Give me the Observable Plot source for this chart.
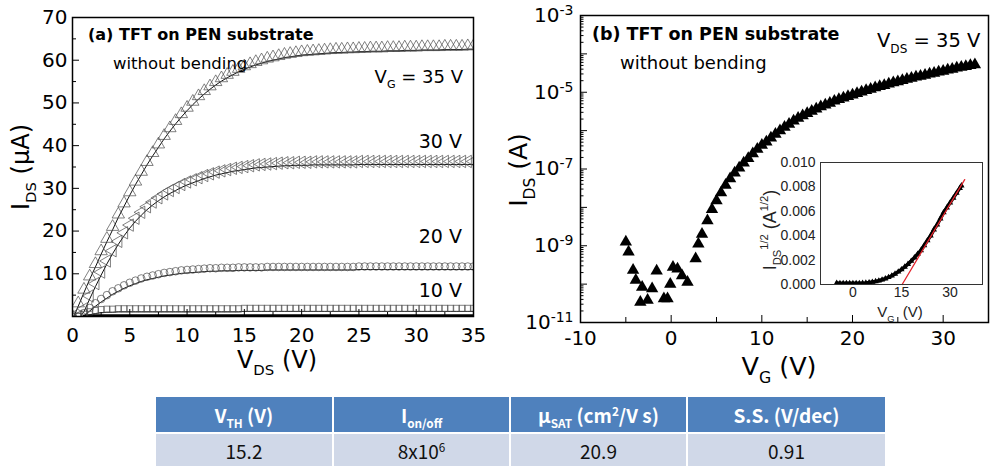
<!DOCTYPE html>
<html><head><meta charset="utf-8">
<script src="https://cdn.jsdelivr.net/npm/d3@7"></script>
<script src="https://cdn.jsdelivr.net/npm/@observablehq/plot@0.6"></script>
<style>
html,body{margin:0;padding:0;background:#fff;}
#wrap{position:relative;width:993px;height:472px;overflow:hidden;background:#fff;}
#wrap svg{position:absolute;overflow:visible;}
#tbl{position:absolute;left:156px;top:397px;width:729px;border-collapse:separate;border-spacing:0;table-layout:fixed;font-family:"Noto Sans CJK KR","Noto Sans",sans-serif;}
#tbl td{padding:0;text-align:center;vertical-align:middle;line-height:1;}
#tbl td.h{background:#4f81bd;color:#fff;font-weight:bold;font-size:19px;height:35px;border-bottom:2px solid #fff;}
#tbl td.v{background:#d0d8e8;color:#111;font-size:19px;height:32px;}
#tbl td.sep{border-right:2px solid #fff;}
#tbl sub,#tbl sup{font-size:0.62em;line-height:0;}
</style></head><body><div id="wrap"></div>
<script>
const FONT = "DejaVu Sans, Verdana, sans-serif";
const IFONT = "Liberation Sans, Arial, sans-serif";

// ---------- (a) output characteristics ----------
const vds = [0,0.5,1,1.5,2,2.5,3,3.5,4,4.5,5,5.5,6,6.5,7,7.5,8,8.5,9,9.5,10,10.5,11,11.5,12,12.5,13,13.5,14,14.5,15,15.5,16,16.5,17,17.5,18,18.5,19,19.5,20,20.5,21,21.5,22,22.5,23,23.5,24,24.5,25,25.5,26,26.5,27,27.5,28,28.5,29,29.5,30,30.5,31,31.5,32,32.5,33,33.5,34,34.5,35];
const ids35 = [0,3.1,6.3,9.4,12.3,15.3,18.2,21.0,23.9,26.5,29.1,31.6,33.9,36.2,38.3,40.3,42.3,44.1,45.8,47.4,48.9,50.3,51.6,52.8,53.9,54.9,55.8,56.6,57.3,58.0,58.6,59.1,59.6,60.0,60.4,60.7,61.0,61.3,61.5,61.7,61.9,62.0,62.1,62.2,62.3,62.4,62.5,62.5,62.6,62.6,62.7,62.7,62.8,62.8,62.8,62.9,62.9,62.9,63.0,63.0,63.0,63.1,63.1,63.1,63.1,63.2,63.2,63.2,63.2,63.3,63.3];
const ids30 = [0,0,1.8,4.8,7.7,10.4,13.0,15.4,17.6,19.6,21.4,23.0,24.4,25.7,26.8,27.8,28.7,29.5,30.2,30.9,31.5,32.0,32.5,33.0,33.4,33.8,34.1,34.4,34.7,34.9,35.1,35.3,35.5,35.6,35.7,35.8,35.9,36.0,36.0,36.1,36.1,36.1,36.2,36.2,36.2,36.2,36.2,36.2,36.2,36.2,36.3,36.3,36.3,36.3,36.3,36.3,36.3,36.3,36.3,36.3,36.3,36.3,36.3,36.3,36.3,36.3,36.3,36.3,36.3,36.3,36.3];
const ids20 = [0,0,0.8,2.0,3.1,4.1,5.0,5.9,6.6,7.3,7.9,8.4,8.9,9.3,9.6,9.9,10.2,10.4,10.6,10.8,10.9,11.0,11.1,11.2,11.3,11.3,11.4,11.4,11.4,11.5,11.5,11.5,11.5,11.5,11.6,11.6,11.6,11.6,11.6,11.6,11.6,11.6,11.6,11.6,11.6,11.6,11.6,11.6,11.6,11.6,11.7,11.7,11.7,11.7,11.7,11.7,11.7,11.7,11.7,11.7,11.7,11.7,11.7,11.7,11.7,11.7,11.7,11.7,11.7,11.7,11.7];
const ids10 = [0,0,0.5,1.1,1.4,1.6,1.7,1.7,1.8,1.8,1.8,1.8,1.8,1.8,1.8,1.8,1.8,1.8,1.8,1.8,1.8,1.8,1.8,1.8,1.8,1.8,1.8,1.8,1.8,1.8,1.9,1.9,1.9,1.9,1.9,1.9,1.9,1.9,1.9,1.9,1.9,1.9,1.9,1.9,1.9,1.9,1.9,1.9,1.9,1.9,1.9,1.9,1.9,1.9,1.9,1.9,1.9,1.9,1.9,1.9,1.9,1.9,1.9,1.9,1.9,1.9,1.9,1.9,1.9,1.9,1.9];
const ids0 = [0,0,0.1,0.15,0.2,0.2,0.2,0.2,0.2,0.2,0.2,0.2,0.2,0.2,0.2,0.2,0.2,0.2,0.2,0.2,0.2,0.2,0.2,0.2,0.2,0.2,0.2,0.2,0.2,0.2,0.2,0.2,0.2,0.2,0.2,0.2,0.2,0.2,0.2,0.2,0.2,0.2,0.2,0.2,0.2,0.2,0.2,0.2,0.2,0.2,0.2,0.2,0.2,0.2,0.2,0.2,0.2,0.2,0.2,0.2,0.2,0.2,0.2,0.2,0.2,0.2,0.2,0.2,0.2,0.2,0.2];
const gateLabels = ["V_G = 35 V", "30 V", "20 V", "10 V"];
const xTicksA = [0,5,10,15,20,25,30,35];
const yTicksA = [10,20,30,40,50,60,70];

// ---------- (b) transfer characteristics ----------
const vgT = [-5.0,-4.7,-4.2,-3.9,-3.4,-3.2,-2.6,-2.1,-1.6,-0.8,-0.4,-0.1,0.2,0.7,1.2,1.8,2.7,3.0,3.4,4.0,4.5,5.0,5.5,6.0,6.5,7.0,7.5,8.0,8.5,9.0,9.5,10,10.5,11,11.5,12,12.5,13,13.5,14,14.5,15,15.5,16,16.5,17,17.5,18,18.5,19,19.5,20,20.5,21,21.5,22,22.5,23,23.5,24,24.5,25,25.5,26,26.5,27,27.5,28,28.5,29,29.5,30,30.5,31,31.5,32,32.5,33,33.5];
const idsT = [1.26e-9,6.9e-10,2.3e-10,1.26e-10,3.4e-11,8.3e-11,3.8e-11,7.6e-11,2.2e-10,4.2e-11,4.2e-11,1.0e-10,2.75e-10,2.5e-10,1.66e-10,1.12e-10,4.6e-10,1.12e-9,2.0e-9,4.5e-9,8.9e-9,1.5e-8,2.4e-8,3.8e-8,5.6e-8,7.9e-8,1.07e-7,1.45e-7,1.9e-7,2.5e-7,3.3e-7,4.2e-7,5.1e-7,6.5e-7,8.1e-7,1.0e-6,1.23e-6,1.48e-6,1.78e-6,2.1e-6,2.45e-6,2.8e-6,3.2e-6,3.7e-6,4.2e-6,4.7e-6,5.2e-6,5.9e-6,6.5e-6,7.1e-6,7.8e-6,8.5e-6,9.3e-6,1.02e-5,1.12e-5,1.2e-5,1.32e-5,1.41e-5,1.51e-5,1.66e-5,1.78e-5,1.9e-5,2.04e-5,2.19e-5,2.34e-5,2.5e-5,2.63e-5,2.8e-5,3.0e-5,3.16e-5,3.4e-5,3.55e-5,3.8e-5,4.0e-5,4.3e-5,4.5e-5,4.7e-5,5.0e-5,5.25e-5];
const xTicksB = [-10,0,10,20,30];
const xMinorB = [-5,5,15,25];
const yLabelTicksB = [1e-11,1e-9,1e-7,1e-5,1e-3];

// ---------- inset: sqrt(IDS) vs VG ----------
const vgS = [-5,-4,-3,-2,-1,0,1,2,3,4,5,6,7,8,9,10,11,12,13,14,15,16,17,18,19,20,21,22,23,24,25,26,27,28,29,30,31,32,33,33.5];
const sqrtS = [0.00012,0.0001,0.0001,0.0001,0.0001,0.0001,0.0001,0.0001,0.00011,0.00013,0.00016,0.0002,0.00025,0.00031,0.00039,0.00048,0.00059,0.00072,0.00087,0.00104,0.00123,0.00144,0.00167,0.00192,0.0022,0.0025,0.0028,0.0032,0.0036,0.0040,0.0045,0.0049,0.0054,0.0059,0.0063,0.0067,0.0071,0.0075,0.0079,0.0081];
const fitVG = [15.2, 34.5];
const fitS = [0, 0.0086];
const xTicksS = [0,15,30];
const yTicksS = [0,0.002,0.004,0.006,0.008,0.010];

// ---------- table ----------
const tableHeaders = ['V<sub>TH</sub> (V)', 'I<sub>on/off</sub>', 'μ<sub>SAT</sub> (cm<sup>2</sup>/V s)', 'S.S. (V/dec)'];
const tableValues = ['15.2', '8x10<sup>6</sup>', '20.9', '0.91'];
const tableCols = [178, 177, 177, 197];

// ---------- helpers ----------
function rich(svgNode, x, y, segs, o = {}) {
  const size = o.size || 20;
  const t = d3.select(svgNode).append("text")
    .attr("x", x).attr("y", y)
    .attr("font-family", o.family || FONT)
    .attr("font-size", size)
    .attr("font-weight", o.weight || "normal")
    .attr("text-anchor", o.anchor || "start")
    .attr("fill", o.fill || "black")
    .style("white-space", "pre");
  if (o.rotate) t.attr("transform", `rotate(${o.rotate} ${x} ${y})`);
  let shift = 0;
  for (const [s, k] of segs) {
    const ts = t.append("tspan").text(s);
    let target = 0;
    if (k === "sub") { target = size * 0.3; ts.attr("font-size", size * (o.sc || 0.62)); }
    else if (k === "sup") { target = -size * 0.42; ts.attr("font-size", size * (o.sc || 0.62)); }
    if (target !== shift) { ts.attr("dy", target - shift); shift = target; }
  }
  return t;
}
const wrap = document.getElementById("wrap");
function place(node, left, top) { node.style.left = left + "px"; node.style.top = top + "px"; wrap.appendChild(node); }

// ---------- panel (a) ----------
const WA = 490, HA = 390, mlA = 72, mrA = 17, mtA = 17, mbA = 74;
const pwA = WA - mlA - mrA, phA = HA - mtA - mbA;
const mk = (vals) => vds.map((v, i) => ({v, i: vals[i]}));
const s35 = mk(ids35), s30 = mk(ids30), s20 = mk(ids20), s10 = mk(ids10), s0 = mk(ids0).filter(d => d.v >= 1);
const dotStyle = {x: "v", y: "i", fill: "none", stroke: "#4a4a4a", strokeWidth: 0.7, clip: true};
const yMinorA = [5,15,25,35,45,55,65];
const xMinorA = [2.5,7.5,12.5,17.5,22.5,27.5,32.5];
const plotA = Plot.plot({
  width: WA, height: HA, marginLeft: mlA, marginRight: mrA, marginTop: mtA, marginBottom: mbA,
  style: {fontFamily: FONT, fontSize: "20px", color: "black", background: "transparent"},
  x: {domain: [0, 35]}, y: {domain: [0, 70]},
  marks: [
    ...[s35, s30, s20, s10].map(s => Plot.line(s, {x: "v", y: "i", stroke: "#111", strokeWidth: 1, dy: 3, clip: true})),
    Plot.line(s0, {x: "v", y: "i", stroke: "black", strokeWidth: 3, clip: true}),
    Plot.dot(s35, {...dotStyle, symbol: "triangle", r: 4.6}),
    Plot.dot(s30, {...dotStyle, symbol: "triangle", rotate: -90, r: 4.6}),
    Plot.dot(s20, {...dotStyle, symbol: "circle", r: 3.8}),
    Plot.dot(s10, {...dotStyle, symbol: "square", r: 3.5}),
    Plot.frame({stroke: "black", strokeWidth: 1.5}),
    Plot.tickY(yMinorA, {y: d => d, insetRight: pwA - 4, stroke: "black"}),
    Plot.tickY(yTicksA, {y: d => d, insetRight: pwA - 7, stroke: "black"}),
    Plot.tickX(xMinorA, {x: d => d, insetTop: phA - 4, stroke: "black"}),
    Plot.tickX(xTicksA, {x: d => d, insetTop: phA - 7, stroke: "black"}),
    Plot.axisX({ticks: xTicksA, tickSize: 0, tickPadding: 11, label: null, fontSize: 20, tickFormat: d => String(d)}),
    Plot.axisY({ticks: yTicksA, tickSize: 0, tickPadding: 5, label: null, fontSize: 20, tickFormat: d => String(d)})
  ]
});
place(plotA, 0, 0);
rich(plotA, 88, 40, [["(a) TFT on PEN substrate", ""]], {size: 16, weight: "bold"});
rich(plotA, 113, 69, [["without bending", ""]], {size: 16.5});
rich(plotA, 463, 83, [["V", ""], ["G", "sub"], [" = 35 V", ""]], {size: 18, anchor: "end"});
rich(plotA, 462, 148, [[gateLabels[1], ""]], {size: 19, anchor: "end"});
rich(plotA, 462, 243, [[gateLabels[2], ""]], {size: 19, anchor: "end"});
rich(plotA, 462, 297, [[gateLabels[3], ""]], {size: 19, anchor: "end"});
rich(plotA, 277, 368, [["V", ""], ["DS", "sub"], [" (V)", ""]], {size: 24, anchor: "middle"});
rich(plotA, 29, 167, [["I", ""], ["DS", "sub"], [" (µA)", ""]], {size: 24, anchor: "middle", rotate: -90});

// ---------- panel (b) ----------
const WB = 503, HB = 390, mlB = 90, mrB = 5, mtB = 15, mbB = 68;
const pwB = WB - mlB - mrB, phB = HB - mtB - mbB;
const rowsT = vgT.map((v, i) => ({v, i: idsT[i]}));
const majorB = [], minorB = [];
for (let e = -11; e <= -3; e++) majorB.push(Math.pow(10, e));
for (let e = -11; e < -3; e++) for (let m = 2; m < 10; m++) minorB.push(m * Math.pow(10, e));
const plotB = Plot.plot({
  width: WB, height: HB, marginLeft: mlB, marginRight: mrB, marginTop: mtB, marginBottom: mbB,
  style: {fontFamily: FONT, fontSize: "20px", color: "black", background: "transparent"},
  x: {domain: [-10, 35]}, y: {type: "log", domain: [1e-11, 1e-3]},
  marks: [
    Plot.dot(rowsT, {x: "v", y: "i", symbol: "triangle", r: 4.6, fill: "black", stroke: "none", clip: true}),
    Plot.frame({stroke: "black", strokeWidth: 1.5}),
    Plot.tickY(minorB, {y: d => d, insetRight: pwB - 3.5, stroke: "black"}),
    Plot.tickY(majorB, {y: d => d, insetRight: pwB - 7, stroke: "black"}),
    Plot.tickX(xMinorB, {x: d => d, insetTop: phB - 5, stroke: "black"}),
    Plot.tickX(xTicksB, {x: d => d, insetTop: phB - 7, stroke: "black"}),
    Plot.axisX({ticks: xTicksB, tickSize: 0, tickPadding: 8, label: null, fontSize: 20, tickFormat: d => String(d)}),
    Plot.axisY({ticks: yLabelTicksB, tickSize: 0, tickPadding: 7, label: null, fontSize: 20, tickFormat: d => String(Math.round(Math.log10(d)))})
  ]
});
place(plotB, 490, 0);
d3.select(plotB).selectAll('g[aria-label="y-axis tick label"] text').each(function () {
  const e = this.textContent;
  const s = d3.select(this);
  s.text(null);
  s.append("tspan").text("10");
  s.append("tspan").attr("dy", "-0.5em").attr("font-size", 14).text(e);
});
rich(plotB, 102, 40, [["(b) TFT on PEN substrate", ""]], {size: 17.5, weight: "bold"});
rich(plotB, 130, 69, [["without bending", ""]], {size: 18});
rich(plotB, 387, 47, [["V", ""], ["DS", "sub"], [" = 35 V", ""]], {size: 19.5});
rich(plotB, 289, 375, [["V", ""], ["G", "sub"], [" (V)", ""]], {size: 25.5, anchor: "middle"});
rich(plotB, 37, 170, [["I", ""], ["DS", "sub"], [" (A)", ""]], {size: 25, anchor: "middle", rotate: -90});

// ---------- inset ----------
const rowsS = vgS.map((v, i) => ({v, s: sqrtS[i]}));
const rowsFit = fitVG.map((v, i) => ({v, s: fitS[i]}));
const plotS = Plot.plot({
  width: 230, height: 172, marginLeft: 60, marginRight: 8, marginTop: 12, marginBottom: 38,
  style: {fontFamily: IFONT, fontSize: "14px", color: "#222", background: "transparent"},
  x: {domain: [-10, 40]}, y: {domain: [0, 0.010]},
  marks: [
    Plot.frame({fill: "white", stroke: "none"}),
    Plot.line(rowsS, {x: "v", y: "s", stroke: "black", strokeWidth: 3.5}),
    Plot.dot(rowsS, {x: "v", y: "s", symbol: "triangle", r: 2.3, fill: "black"}),
    Plot.line(rowsFit, {x: "v", y: "s", stroke: "#e3262e", strokeWidth: 1.3}),
    Plot.frame({stroke: "#333", strokeWidth: 1}),
    Plot.axisX({ticks: xTicksS, tickSize: 0, tickPadding: 3, label: null, fontSize: 14, tickFormat: d => String(d)}),
    Plot.axisY({ticks: yTicksS, tickSize: 0, tickPadding: 5, label: null, fontSize: 14, tickFormat: d3.format(".3f")})
  ]
});
place(plotS, 760, 150);
rich(plotS, 140, 167, [["V", ""], ["G", "sub"], ["\u00A0\u00A0(V)", ""]], {size: 15, anchor: "middle", family: IFONT, fill: "#222"});
rich(plotS, 16, 80, [["I", ""], ["DS", "sub"], ["1/2", "sup"], ["\u00A0(A", ""], ["1/2", "sup"], [")", ""]], {size: 18, anchor: "middle", rotate: -90, family: IFONT, fill: "#222"});

// ---------- table ----------
const tbl = document.createElement("table");
tbl.id = "tbl";
const cg = document.createElement("colgroup");
tableCols.forEach(w => { const c = document.createElement("col"); c.style.width = w + "px"; cg.appendChild(c); });
tbl.appendChild(cg);
[[tableHeaders, "h"], [tableValues, "v"]].forEach(([cells, cls]) => {
  const tr = document.createElement("tr");
  cells.forEach((html, j) => {
    const td = document.createElement("td");
    td.className = cls + (j < cells.length - 1 ? " sep" : "");
    td.innerHTML = html;
    tr.appendChild(td);
  });
  tbl.appendChild(tr);
});
wrap.appendChild(tbl);
</script></body></html>
